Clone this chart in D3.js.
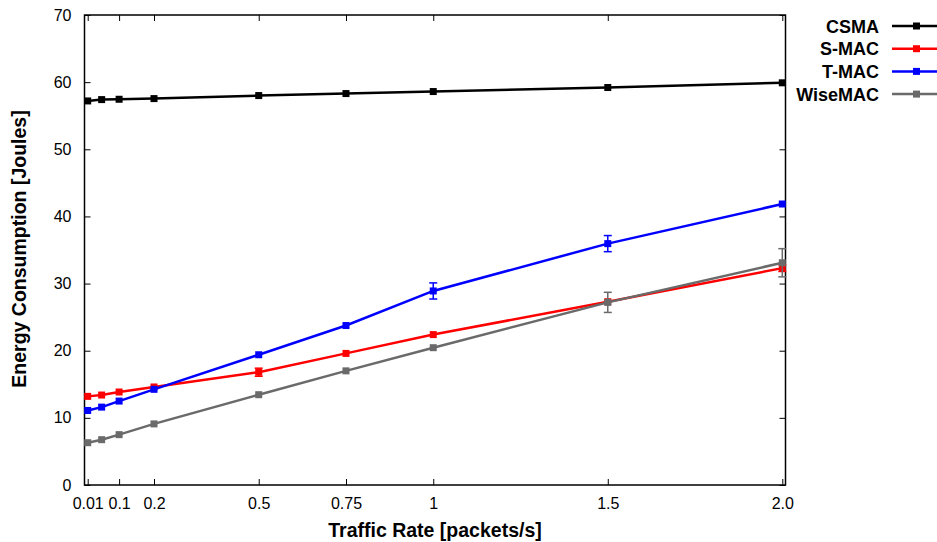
<!DOCTYPE html>
<html>
<head>
<meta charset="utf-8">
<script src="https://cdn.jsdelivr.net/npm/d3@7"></script>
<style>
  body { margin: 0; background: #fff; }
  svg text { font-family: "Liberation Sans", Arial, Helvetica, sans-serif; }
</style>
</head>
<body>
<svg id="chart" width="937" height="542"></svg>
<script>
// Traffic rates (x) shared by all series
var rates = [0.01, 0.05, 0.1, 0.2, 0.5, 0.75, 1, 1.5, 2.0];
var xTickValues = [0.01, 0.1, 0.2, 0.5, 0.75, 1, 1.5, 2.0];
var xTickLabels = ["0.01", "0.1", "0.2", "0.5", "0.75", "1", "1.5", "2.0"];
var yTickValues = [0, 10, 20, 30, 40, 50, 60, 70];

var seriesNames = ["CSMA", "S-MAC", "T-MAC", "WiseMAC"];
var seriesColors = ["#000000", "#ff0000", "#0000ff", "#6a6a6a"];

// Energy [J] per rate
var csma    = [57.2, 57.4, 57.45, 57.55, 58.0, 58.3, 58.6, 59.2, 59.9];
var smac    = [13.2, 13.4, 13.85, 14.6, 16.8, 19.6, 22.4, 27.3, 32.3];
var tmac    = [11.1, 11.6, 12.5, 14.25, 19.4, 23.75, 28.9, 35.95, 41.85];
var wisemac = [6.3, 6.75, 7.5, 9.1, 13.45, 17.0, 20.45, 27.2, 33.1];

// error half-widths (0 = no visible bar)
var csmaErr    = [0, 0, 0, 0, 0, 0, 0, 0, 0];
var smacErr    = [0, 0, 0, 0, 0.6, 0, 0, 0, 0.5];
var tmacErr    = [0, 0, 0, 0, 0, 0, 1.2, 1.2, 0];
var wisemacErr = [0, 0, 0, 0, 0, 0, 0, 1.5, 2.1];

var allValues = [csma, smac, tmac, wisemac];
var allErrs = [csmaErr, smacErr, tmacErr, wisemacErr];

var svg = d3.select("#chart");

var plotLeft = 84.5, plotRight = 785.5, plotTop = 15, plotBottom = 485;

var x = d3.scaleLinear().domain([0, 2]).range([84.2, 782.3]);
var y = d3.scaleLinear().domain([0, 70]).range([plotBottom, plotTop]);

/**** frame ****/
svg.append("rect")
    .attr("x", plotLeft).attr("y", plotTop)
    .attr("width", plotRight - plotLeft).attr("height", plotBottom - plotTop)
    .attr("fill", "none").attr("stroke", "#000").attr("stroke-width", 1.5);

/**** axes: ticks point inward ****/
var fmt = function(d) { return xTickLabels[xTickValues.indexOf(d)]; };

var xAxis = svg.append("g")
    .attr("transform", "translate(0," + plotBottom + ")")
    .call(d3.axisBottom(x).tickValues(xTickValues).tickFormat(fmt).tickSizeInner(-6).tickSizeOuter(0).tickPadding(13));
var xTop = svg.append("g")
    .attr("transform", "translate(0," + plotTop + ")")
    .call(d3.axisTop(x).tickValues(xTickValues).tickFormat("").tickSizeInner(-6).tickSizeOuter(0));
var yAxis = svg.append("g")
    .attr("transform", "translate(" + plotLeft + ",0)")
    .call(d3.axisLeft(y).tickValues(yTickValues).tickSizeInner(-6).tickSizeOuter(0).tickPadding(13));
var yRight = svg.append("g")
    .attr("transform", "translate(" + plotRight + ",0)")
    .call(d3.axisRight(y).tickValues(yTickValues).tickFormat("").tickSizeInner(-6).tickSizeOuter(0));

[xAxis, xTop, yAxis, yRight].forEach(function(g) {
    g.select(".domain").remove();
    g.selectAll("line").attr("stroke", "#000").attr("stroke-width", 1);
    g.selectAll("text").attr("font-size", 16).attr("fill", "#000");
});

/**** axis titles ****/
svg.append("text")
    .attr("x", 435).attr("y", 537)
    .attr("text-anchor", "middle")
    .attr("font-size", 19.5).attr("font-weight", "bold")
    .text("Traffic Rate [packets/s]");

svg.append("text")
    .attr("transform", "translate(26,249) rotate(-90)")
    .attr("text-anchor", "middle")
    .attr("font-size", 19.5).attr("font-weight", "bold")
    .text("Energy Consumption [Joules]");

/**** series ****/
var line = d3.line()
    .x(function(d) { return x(d.r); })
    .y(function(d) { return y(d.v); });

seriesNames.forEach(function(name, s) {
    var pts = rates.map(function(r, i) {
        return { r: r, v: allValues[s][i], e: allErrs[s][i] };
    });
    var color = seriesColors[s];
    var g = svg.append("g");

    g.append("path")
        .datum(pts)
        .attr("d", line)
        .attr("fill", "none")
        .attr("stroke", color)
        .attr("stroke-width", 2.5);

    var eb = g.selectAll(".err")
        .data(pts.filter(function(d) { return d.e > 0; }))
        .enter().append("g")
        .attr("stroke", color).attr("stroke-width", 1.5);
    eb.append("line")
        .attr("x1", function(d) { return x(d.r); })
        .attr("x2", function(d) { return x(d.r); })
        .attr("y1", function(d) { return y(d.v - d.e); })
        .attr("y2", function(d) { return y(d.v + d.e); });
    [-1, 1].forEach(function(sign) {
        eb.append("line")
            .attr("x1", function(d) { return x(d.r) - 4; })
            .attr("x2", function(d) { return x(d.r) + 4; })
            .attr("y1", function(d) { return y(d.v + sign * d.e); })
            .attr("y2", function(d) { return y(d.v + sign * d.e); });
    });

    g.selectAll(".mark")
        .data(pts)
        .enter().append("rect")
        .attr("x", function(d) { return x(d.r) - 3.5; })
        .attr("y", function(d) { return y(d.v) - 3.5; })
        .attr("width", 7).attr("height", 7)
        .attr("fill", color);
});

/**** legend ****/
var legend = svg.append("g");
seriesNames.forEach(function(name, s) {
    var ly = 26 + s * 22.7;
    legend.append("text")
        .attr("x", 879).attr("y", ly + 6.5)
        .attr("text-anchor", "end")
        .attr("font-size", 18).attr("font-weight", "bold")
        .text(name);
    legend.append("line")
        .attr("x1", 892).attr("x2", 937)
        .attr("y1", ly).attr("y2", ly)
        .attr("stroke", seriesColors[s]).attr("stroke-width", 2.5);
    legend.append("rect")
        .attr("x", 913).attr("y", ly - 3.5)
        .attr("width", 7).attr("height", 7)
        .attr("fill", seriesColors[s]);
});
</script>
</body>
</html>
